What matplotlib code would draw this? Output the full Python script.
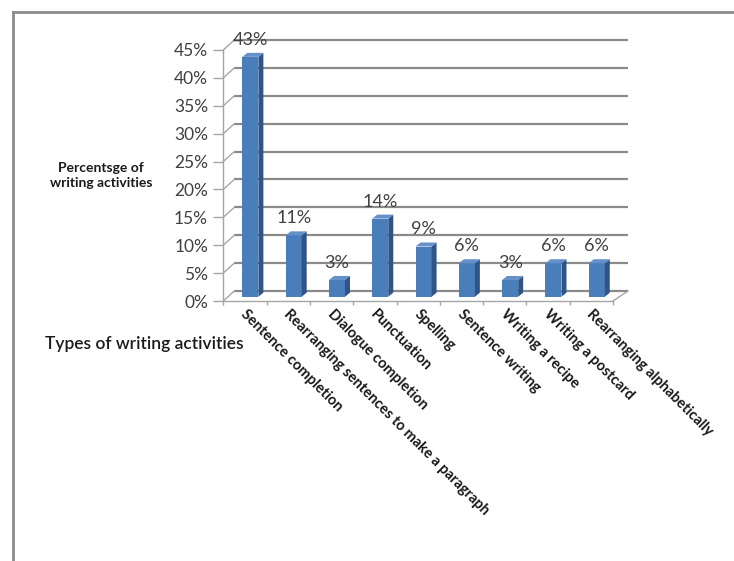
import matplotlib
matplotlib.use("Agg")
import matplotlib.pyplot as plt
from matplotlib.patches import Polygon
from matplotlib.lines import Line2D
import matplotlib.transforms as mtransforms

plt.rcParams['font.family'] = ['Lato', 'DejaVu Sans']

categories = ["Sentence completion", "Rearranging sentences to make a paragraph",
              "Dialogue completion", "Punctuation", "Spelling", "Sentence writing",
              "Writing a recipe", "Writing a postcard", "Rearranging alphabetically"]
values = [43, 11, 3, 14, 9, 6, 3, 6, 6]
yticks = [0, 5, 10, 15, 20, 25, 30, 35, 40, 45]
ylabel = "Percentsge of\nwriting activities"
xlabel = "Types of writing activities"

W, H = 734, 561
fig = plt.figure(figsize=(W / 100, H / 100), dpi=100)
fig.patch.set_facecolor('white')

# axes placement (pixels)
x0_px, x1_px = 223.3, 613.0
y0_px, y1_px = 301.0, 50.0
ax = fig.add_axes([x0_px / W, 1 - y0_px / H, (x1_px - x0_px) / W, (y0_px - y1_px) / H])
n = len(categories)
ax.set_xlim(0, n)
ax.set_ylim(0, 45)
ax.set_facecolor('none')

pxx = (x1_px - x0_px) / n      # px per x unit
pxy = (y0_px - y1_px) / 45.0   # px per y unit

# depth offsets in data units
fdx, fdy = 11 / pxx, 10 / pxy      # floor / wall depth
bdx, bdy = 5 / pxx, 4 / pxy        # bar depth
grid_c = '#8a8a8a'
back_right = n + 15 / pxx

# back wall gridlines and diagonals
for t in yticks:
    ax.plot([fdx, back_right], [t + fdy, t + fdy], color=grid_c, lw=1.6, zorder=1, clip_on=False,
            solid_capstyle='butt')
    ax.plot([0, fdx], [t, t + fdy], color='#a6a6a6', lw=1.0, zorder=1, clip_on=False)
# floor right edge
ax.plot([n, back_right], [0, fdy], color='#a6a6a6', lw=1.0, zorder=1, clip_on=False)

# spines / ticks
for s in ['top', 'right']:
    ax.spines[s].set_visible(False)
ax.spines['left'].set_color('#a6a6a6')
ax.spines['left'].set_linewidth(1.0)
ax.spines['bottom'].set_color('#a6a6a6')
ax.spines['bottom'].set_linewidth(1.0)
ax.set_yticks(yticks)
ax.set_yticklabels([f"{t}%" for t in yticks])
ax.tick_params(axis='y', length=7, width=1.0, color='#a6a6a6', pad=4,
               labelsize=12.5, labelcolor='#404040')
ax.set_xticks(range(n + 1))
ax.set_xticklabels([])
ax.tick_params(axis='x', length=3, width=1.0, color='#a6a6a6')

# bars
front_c = '#4a7ebb'
side_c = '#2f5485'
top_c = '#6690c8'
b_left, b_w, b0 = 0.44, 0.37, 4.3 / pxy
xs = [i + b_left for i in range(n)]
ax.bar(xs, values, width=b_w, bottom=b0, align='edge', color=front_c,
       edgecolor='none', zorder=3)
for x, v in zip(xs, values):
    xr = x + b_w
    top = b0 + v
    side = Polygon([(xr, b0), (xr + bdx, b0 + bdy), (xr + bdx, top + bdy), (xr, top)],
                   closed=True, facecolor=side_c, edgecolor='none', zorder=3)
    ax.add_patch(side)
    topf = Polygon([(x, top), (xr, top), (xr + bdx, top + bdy), (x + bdx, top + bdy)],
                   closed=True, facecolor=top_c, edgecolor='none', zorder=3)
    ax.add_patch(topf)
    ax.annotate(f"{v}%", xy=(x + b_w / 2, top), xytext=(0, 17), textcoords='offset pixels',
                ha='center', va='center', fontsize=13, color='#404040', zorder=4)

# category labels
for i, c in enumerate(categories):
    tr = ax.transData + mtransforms.ScaledTranslation(3 / 100, -6 / 100, fig.dpi_scale_trans)
    ax.text(i + 0.5, 0, c, rotation=-45, rotation_mode='anchor', ha='left', va='top',
            fontsize=10.5, fontweight='bold', color='#1a1a1a', transform=tr)

# axis titles
fig.text(101 / W, 1 - 175 / H, ylabel, ha='center', va='center', fontsize=10,
         fontweight='bold', color='#1a1a1a', linespacing=1.3)
fig.text(45 / W, 1 - 344 / H, xlabel, ha='left', va='center', fontsize=12.5,
         fontweight='semibold', color='#1a1a1a')

# outer frame (left and top)
fig.add_artist(Line2D([12.7 / W, 12.7 / W], [0, 1 - 12 / H], color='#8c8c8c', lw=2,
                      transform=fig.transFigure))
fig.add_artist(Line2D([12.7 / W, 1], [1 - 12 / H, 1 - 12 / H], color='#8c8c8c', lw=2,
                      transform=fig.transFigure))

fig.savefig('out.png', dpi=100)
